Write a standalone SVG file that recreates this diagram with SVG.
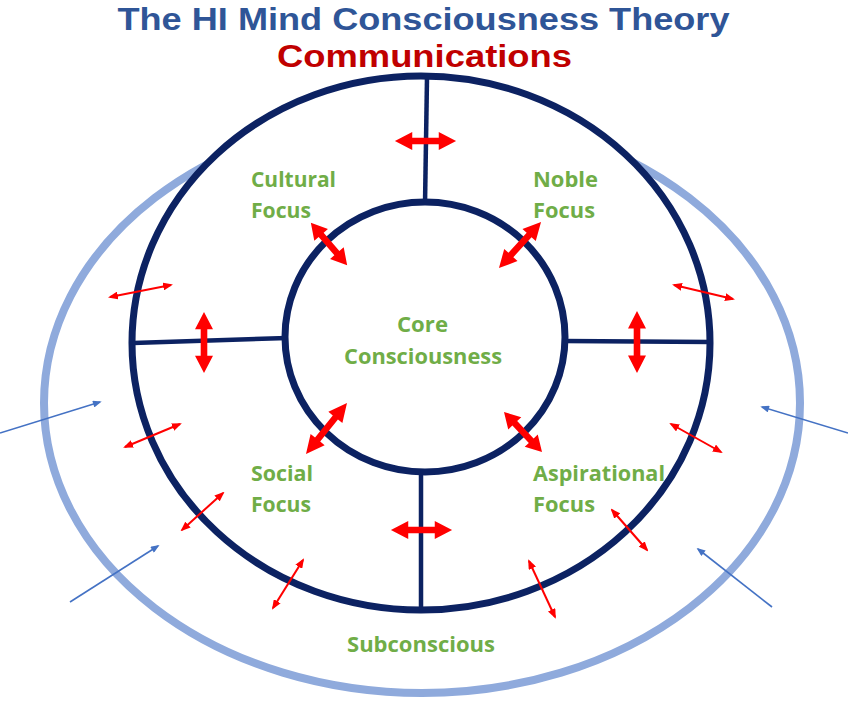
<svg xmlns="http://www.w3.org/2000/svg" width="848" height="702" viewBox="0 0 848 702">
<defs>
<style>
.title{font-family:"Liberation Sans","Open Sans",sans-serif;font-weight:700;text-anchor:middle}
.lbl{font-family:"Open Sans","Liberation Sans",sans-serif;font-weight:700;font-size:22px;fill:#70ad47}
.ring{fill:#fff;stroke:#0c2262;stroke-width:7}
.spoke{stroke:#0c2262;stroke-width:4.5;fill:none}
.thin{stroke:#ff0000;stroke-width:2;fill:none;marker-start:url(#rh);marker-end:url(#rh)}
.blue{stroke:#4472c4;stroke-width:1.6;fill:none;marker-end:url(#bh)}
.big{fill:#ff0000}
</style>
<marker id="rh" viewBox="0 0 10 8" refX="8" refY="4" markerWidth="10" markerHeight="8" markerUnits="userSpaceOnUse" orient="auto-start-reverse">
<path d="M0,0 L10,4 L0,8 Z" fill="#ff0000"/>
</marker>
<marker id="bh" viewBox="0 0 10 8" refX="8" refY="4" markerWidth="10" markerHeight="7" markerUnits="userSpaceOnUse" orient="auto">
<path d="M0,0 L10,4 L0,8 Z" fill="#4472c4"/>
</marker>
<path id="bigArrow" d="M-30,0 L-13,-9 L-13,-3.3 L13,-3.3 L13,-9 L30,0 L13,9 L13,3.3 L-13,3.3 L-13,9 Z"/>
</defs>

<rect width="848" height="702" fill="#fff"/>

<g id="title">
<text class="title" x="423.5" y="30" font-size="32" fill="#2f5597" textLength="612" lengthAdjust="spacingAndGlyphs">The HI Mind Consciousness Theory</text>
<text class="title" x="424.5" y="67" font-size="32" fill="#c00000" textLength="295" lengthAdjust="spacingAndGlyphs">Communications</text>
</g>

<g id="external-ring">
<ellipse cx="422" cy="403" rx="378" ry="290" fill="none" stroke="#8faadc" stroke-width="8"/>
</g>

<g id="subconscious-ring">
<ellipse class="ring" cx="421" cy="343" rx="289" ry="267"/>
</g>

<g id="spokes">
<line class="spoke" x1="427" y1="78" x2="425" y2="204"/>
<line class="spoke" x1="421" y1="471" x2="421" y2="608"/>
<line class="spoke" x1="133" y1="343" x2="287" y2="338"/>
<line class="spoke" x1="564" y1="341" x2="711" y2="342"/>
</g>

<g id="core-ring">
<ellipse class="ring" cx="425" cy="337" rx="140" ry="135"/>
</g>

<g id="cultural-focus">
<text class="lbl" x="251" y="187" textLength="85" lengthAdjust="spacingAndGlyphs">Cultural</text>
<text class="lbl" x="251" y="218" textLength="60" lengthAdjust="spacingAndGlyphs">Focus</text>
</g>
<g id="noble-focus">
<text class="lbl" x="533" y="187" textLength="65" lengthAdjust="spacingAndGlyphs">Noble</text>
<text class="lbl" x="533" y="218" textLength="62" lengthAdjust="spacingAndGlyphs">Focus</text>
</g>
<g id="core-consciousness">
<text class="lbl" x="397" y="332" textLength="51" lengthAdjust="spacingAndGlyphs">Core</text>
<text class="lbl" x="344" y="364" textLength="158" lengthAdjust="spacingAndGlyphs">Consciousness</text>
</g>
<g id="social-focus">
<text class="lbl" x="251" y="481" textLength="62" lengthAdjust="spacingAndGlyphs">Social</text>
<text class="lbl" x="251" y="512" textLength="60" lengthAdjust="spacingAndGlyphs">Focus</text>
</g>
<g id="aspirational-focus">
<text class="lbl" x="533" y="481" textLength="132" lengthAdjust="spacingAndGlyphs">Aspirational</text>
<text class="lbl" x="533" y="512" textLength="62" lengthAdjust="spacingAndGlyphs">Focus</text>
</g>
<g id="subconscious">
<text class="lbl" x="347" y="652" textLength="148" lengthAdjust="spacingAndGlyphs">Subconscious</text>
</g>

<g id="connectors">
<use href="#bigArrow" class="big" transform="translate(425.5,141) scale(1.02,1)"/>
<use href="#bigArrow" class="big" transform="translate(204,342.5) rotate(90) scale(1.02,1)"/>
<use href="#bigArrow" class="big" transform="translate(637,342) rotate(90) scale(1.03,1)"/>
<use href="#bigArrow" class="big" transform="translate(421.5,530) scale(1.02,1)"/>
<use href="#bigArrow" class="big" transform="translate(329,244) rotate(49.4) scale(0.93,1)"/>
<use href="#bigArrow" class="big" transform="translate(520,245) rotate(-47.6) scale(1.04,1)"/>
<use href="#bigArrow" class="big" transform="translate(326.5,428.5) rotate(-51.2) scale(1.09,1)"/>
<use href="#bigArrow" class="big" transform="translate(523,432) rotate(46.5) scale(0.92,1)"/>

<line class="thin" x1="110" y1="297" x2="171" y2="285"/>
<line class="thin" x1="125" y1="447" x2="180" y2="424"/>
<line class="thin" x1="182" y1="530" x2="223" y2="493"/>
<line class="thin" x1="273" y1="608" x2="303" y2="560"/>
<line class="thin" x1="674" y1="285" x2="733" y2="299"/>
<line class="thin" x1="671" y1="424" x2="721" y2="452"/>
<line class="thin" x1="612" y1="510" x2="647" y2="550"/>
<line class="thin" x1="529" y1="561" x2="555" y2="617"/>

<line class="blue" x1="0" y1="433" x2="100" y2="402"/>
<line class="blue" x1="70" y1="602" x2="158" y2="546"/>
<line class="blue" x1="848" y1="433" x2="762" y2="407"/>
<line class="blue" x1="772" y1="607" x2="698" y2="549"/>
</g>
</svg>
